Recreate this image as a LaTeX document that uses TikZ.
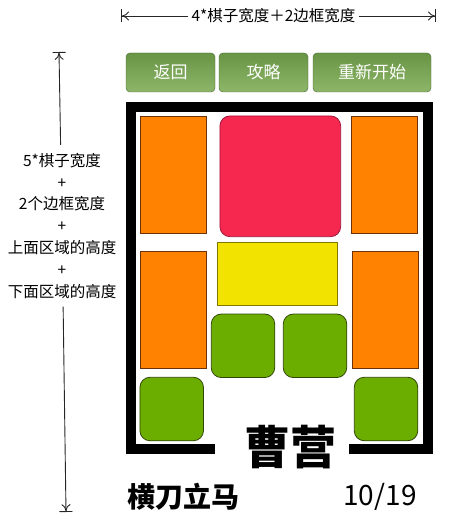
\documentclass[tikz,border=0pt]{standalone}
\usepackage{fontspec}
\setmainfont{Noto Sans CJK SC}
\usepackage{tikz}
\usetikzlibrary{arrows.meta}

\definecolor{qiorange}{RGB}{255,131,0}
\definecolor{qiorangeb}{RGB}{110,50,10}
\definecolor{qired}{RGB}{247,40,80}
\definecolor{qiredb}{RGB}{160,20,60}
\definecolor{qiyellow}{RGB}{242,228,0}
\definecolor{qiyellowb}{RGB}{130,120,0}
\definecolor{qigreen}{RGB}{108,174,0}
\definecolor{qigreenb}{RGB}{50,70,10}
\definecolor{btntop}{RGB}{104,148,70}
\definecolor{btnbot}{RGB}{142,182,104}
\definecolor{btnb}{RGB}{70,105,50}

\begin{document}
\begin{tikzpicture}[x=1pt,y=-1pt]
  \useasboundingbox (0,0) rectangle (463,521);
  \tikzstyle{every node}=[inner sep=0pt]
  \tikzstyle{qi}=[draw,line width=0.8pt,minimum width=66.7pt,minimum height=117pt]
  \tikzstyle{jiang}=[qi,fill=qiorange,draw=qiorangeb]
  \tikzstyle{bing}=[qi,fill=qigreen,draw=qigreenb,rounded corners=10pt,minimum width=63.5pt,minimum height=63.5pt]
  \tikzstyle{btn}=[draw=btnb,rounded corners=4pt,top color=btntop,bottom color=btnbot,
    minimum height=39pt,text=white,font=\fontsize{17}{20}\selectfont]
  \tikzstyle{chi}=[font=\fontsize{15.5}{21.8}\selectfont,inner sep=3pt]
  \tikzstyle{dim}=[line width=0.9pt,black!85]
  \tikzstyle{dimstart}=[dim,{Bar[width=13pt]To[length=7pt,width=9pt]}-]
  \tikzstyle{dimend}=[dim,-{To[length=7pt,width=9pt]Bar[width=13pt]}]

  \node[btn,minimum width=89pt]  (fh) at (170.5,72.5) {返回};
  \node[btn,minimum width=89pt]  (gl) at (263.5,72.5) {攻略};
  \node[btn,minimum width=118pt] (cx) at (372,72.5)   {重新开始};

  \draw[line width=10pt]
  (215,448.5) -- (130.5,448.5) -- (130.5,107) -- (427.5,107) -- (427.5,448.5) -- (349,448.5);

  \node[jiang] (zf) at (173.3,174.5) {};
  \node[qi,fill=qired,draw=qiredb,rounded corners=10pt,minimum width=120.7pt,minimum height=120.7pt]
    (cc) at (280.3,176.3) {};
  \node[jiang] (zy) at (384.3,174.5) {};
  \node[jiang] (mc) at (173.3,309.5) {};
  \node[qi,fill=qiyellow,draw=qiyellowb,minimum width=120.7pt,minimum height=63.4pt]
    (gy) at (277.3,274) {};
  \node[jiang] (hz) at (385.3,309.5) {};
  \node[bing] (b1) at (243,345.8) {};
  \node[bing] (b2) at (315,345.8) {};
  \node[bing] (b3) at (171.7,409) {};
  \node[bing] (b4) at (386,409) {};

  \node[font=\fontsize{46}{50}\selectfont\bfseries] (cy) at (290,447) {曹营};
  \node[font=\fontsize{28}{30}\selectfont\bfseries,anchor=west] (name) at (127,497) {横刀立马};
  \node[font=\fontsize{28}{30}\selectfont] (step) at (380,497) {10/19};

  \coordinate (wl) at (121,16);
  \coordinate (wr) at (436,16);
  \node[chi] (wt) at (273.5,16) {4*棋子宽度＋2边框宽度};
  \draw[dimstart] (wl) -- (wt);
  \draw[dimend] (wt) -- (wr);

  \coordinate (ht) at (59,52);
  \coordinate (hb) at (66,512);
  \node[chi,align=center,inner ysep=8pt] (hx) at (62,225.7)
    {5*棋子宽度\\+\\2个边框宽度\\+\\上面区域的高度\\+\\下面区域的高度};
  \draw[dimstart] (ht) -- (hx);
  \draw[dimend] (hx) -- (hb);
\end{tikzpicture}
\end{document}
